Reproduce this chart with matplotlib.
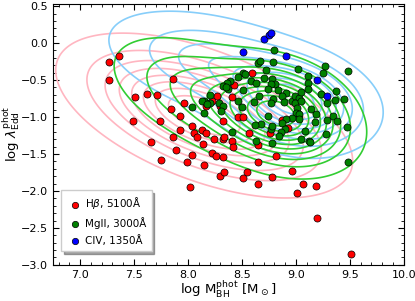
import numpy as np
import matplotlib.pyplot as plt

# H-beta sample
hb_mass = [7.27, 7.36, 7.27, 7.86, 7.51, 7.62, 7.71, 7.84, 7.96, 7.93, 7.49, 7.74, 7.86, 7.93,
           7.66, 8.04, 8.06, 8.13, 8.08, 8.14, 7.89, 8.17, 7.75, 7.99, 8.04, 8.15, 8.02, 8.24,
           8.22, 8.26, 8.32, 8.30, 8.33, 8.32, 8.41, 8.42, 8.65, 8.55, 8.51, 8.65, 8.82, 8.78,
           8.65, 8.96, 9.01, 9.07, 9.19, 9.20, 9.51, 8.59, 8.43, 8.27, 8.22, 8.41, 8.17, 8.30,
           8.32, 8.46, 8.51, 8.33, 8.57, 8.76, 8.87, 8.93]
hb_edd = [-0.26, -0.18, -0.50, -0.49, -0.73, -0.69, -0.70, -0.89, -0.81, -0.99, -1.05, -1.05,
          -1.27, -1.18, -1.34, -1.12, -1.22, -1.18, -1.27, -1.36, -1.45, -1.22, -1.58, -1.61,
          -1.51, -1.65, -1.95, -1.30, -1.49, -1.53, -1.54, -1.80, -1.74, -1.30, -1.32, -1.41,
          -1.38, -1.74, -1.82, -1.61, -1.53, -1.81, -1.91, -1.73, -2.03, -1.91, -1.93, -2.36,
          -2.85, -0.41, -0.57, -0.72, -0.78, -0.73, -0.85, -0.85, -1.05, -1.00, -1.00, -1.27,
          -1.22, -1.22, -1.04, -1.15]

# MgII sample
mg_mass = [8.80, 8.79, 8.65, 8.67, 8.72, 9.02, 9.27, 9.25, 9.48, 8.51, 8.46, 8.58, 8.63, 8.70,
           8.78, 8.81, 8.77, 8.74, 8.83, 8.91, 8.87, 8.79, 8.66, 8.51, 8.39, 8.36, 8.32, 8.37,
           8.20, 8.15, 8.20, 8.15, 8.29, 8.32, 8.31, 8.46, 8.50, 8.61, 8.77, 8.89, 8.96, 8.99,
           9.03, 8.99, 9.05, 9.11, 9.11, 9.11, 9.05, 9.01, 9.00, 9.03, 9.14, 9.19, 9.23, 9.29,
           9.37, 9.36, 9.45, 9.29, 9.34, 9.38, 9.47, 9.28, 9.18, 9.08, 9.12, 9.03, 8.96, 8.91,
           8.87, 8.90, 8.86, 8.84, 8.77, 8.78, 8.74, 8.68, 8.62, 8.41, 8.63, 8.78, 9.05, 8.04,
           8.13, 8.18, 9.48, 9.13, 8.53, 8.35]
mg_edd = [-0.09, -0.26, -0.27, -0.24, -0.36, -0.35, -0.31, -0.41, -0.38, -0.41, -0.46, -0.51,
          -0.54, -0.47, -0.49, -0.55, -0.55, -0.62, -0.64, -0.68, -0.72, -0.76, -0.72, -0.64,
          -0.51, -0.54, -0.58, -0.62, -0.70, -0.78, -0.81, -0.95, -0.81, -0.85, -0.92, -0.78,
          -0.86, -0.80, -0.81, -0.80, -0.78, -0.72, -0.74, -0.81, -0.66, -0.45, -0.54, -0.62,
          -0.78, -0.88, -0.95, -0.96, -0.89, -0.96, -0.69, -0.81, -0.65, -0.77, -0.76, -1.04,
          -0.99, -1.05, -1.14, -1.23, -1.07, -1.19, -1.32, -1.03, -1.01, -1.03, -1.08, -1.16,
          -1.20, -1.26, -1.16, -1.12, -0.99, -1.09, -1.11, -1.20, -1.32, -1.35, -1.30, -0.86,
          -0.78, -0.82, -1.61, -1.34, -0.42, -0.60]

# CIV sample
civ_mass = [8.70, 8.75, 8.77, 8.51, 8.91, 9.20, 9.29]
civ_edd = [0.05, 0.11, 0.14, -0.12, -0.18, -0.50, -0.72]

# parent population densities: (x0, y0, sx, sy, rho, weight)
hb_pop = [(8.15, -0.98, 0.58, 0.47, -0.55, 1.0)]
mg_pop = [(8.88, -0.95, 0.33, 0.36, -0.25, 1.0), (8.30, -0.78, 0.52, 0.45, -0.55, 0.45)]
civ_pop = [(9.00, -0.82, 0.33, 0.32, -0.2, 1.0), (8.40, -0.35, 0.58, 0.40, -0.5, 0.5)]


def density(X, Y, comps):
    Z = np.zeros_like(X)
    for x0, y0, sx, sy, r, w in comps:
        dx = (X - x0) / sx
        dy = (Y - y0) / sy
        q = (dx**2 - 2 * r * dx * dy + dy**2) / (1 - r**2)
        Z += w * np.exp(-0.5 * q)
    return Z / Z.max()


gx, gy = np.meshgrid(np.linspace(6.4, 10.4, 400), np.linspace(-3.4, 1.0, 400))

fig = plt.figure(figsize=(4.15, 3.01), dpi=100)
ax = fig.add_axes([0.128, 0.12, 0.845, 0.867])

ax.contour(gx, gy, density(gx, gy, hb_pop), levels=np.linspace(0.06, 0.85, 8),
           colors='#ffb6c1', linewidths=1.2)
ax.contour(gx, gy, density(gx, gy, civ_pop), levels=np.linspace(0.06, 0.85, 8),
           colors='#87cefa', linewidths=1.2)
ax.contour(gx, gy, density(gx, gy, mg_pop), levels=np.linspace(0.06, 0.9, 10),
           colors='#32cd32', linewidths=1.2)

kw = dict(s=26, edgecolors='black', linewidths=0.5, zorder=5)
ax.scatter(hb_mass, hb_edd, c='red', label=r'H$\beta$, 5100Å', **kw)
ax.scatter(mg_mass, mg_edd, c='green', label='MgII, 3000Å', **kw)
ax.scatter(civ_mass, civ_edd, c='blue', label='CIV, 1350Å', **kw)

ax.set_xlim(6.75, 10.0)
ax.set_ylim(-3.0, 0.53)
ax.set_xticks(np.arange(7.0, 10.01, 0.5))
ax.set_yticks(np.arange(-3.0, 0.51, 0.5))
ax.minorticks_on()
ax.tick_params(which='both', direction='in', top=True, right=True, labelsize=8)
ax.tick_params(which='major', length=4)
ax.tick_params(which='minor', length=2)

ax.set_xlabel(r'log M$_{\rm BH}^{\rm phot}$ [M$_\odot$]', fontsize=9.5, labelpad=-0.5)
ax.set_ylabel(r'log $\lambda_{\rm Edd}^{\rm phot}$', fontsize=9.5, labelpad=-0.5)

ax.legend(loc='lower left', fontsize=7.5, shadow=True, fancybox=False, markerscale=0.9,
          borderpad=0.5, labelspacing=0.55, handletextpad=0.2, handlelength=1.6,
          bbox_to_anchor=(0.023, 0.054), borderaxespad=0)

fig.savefig('out.png', dpi=100)
